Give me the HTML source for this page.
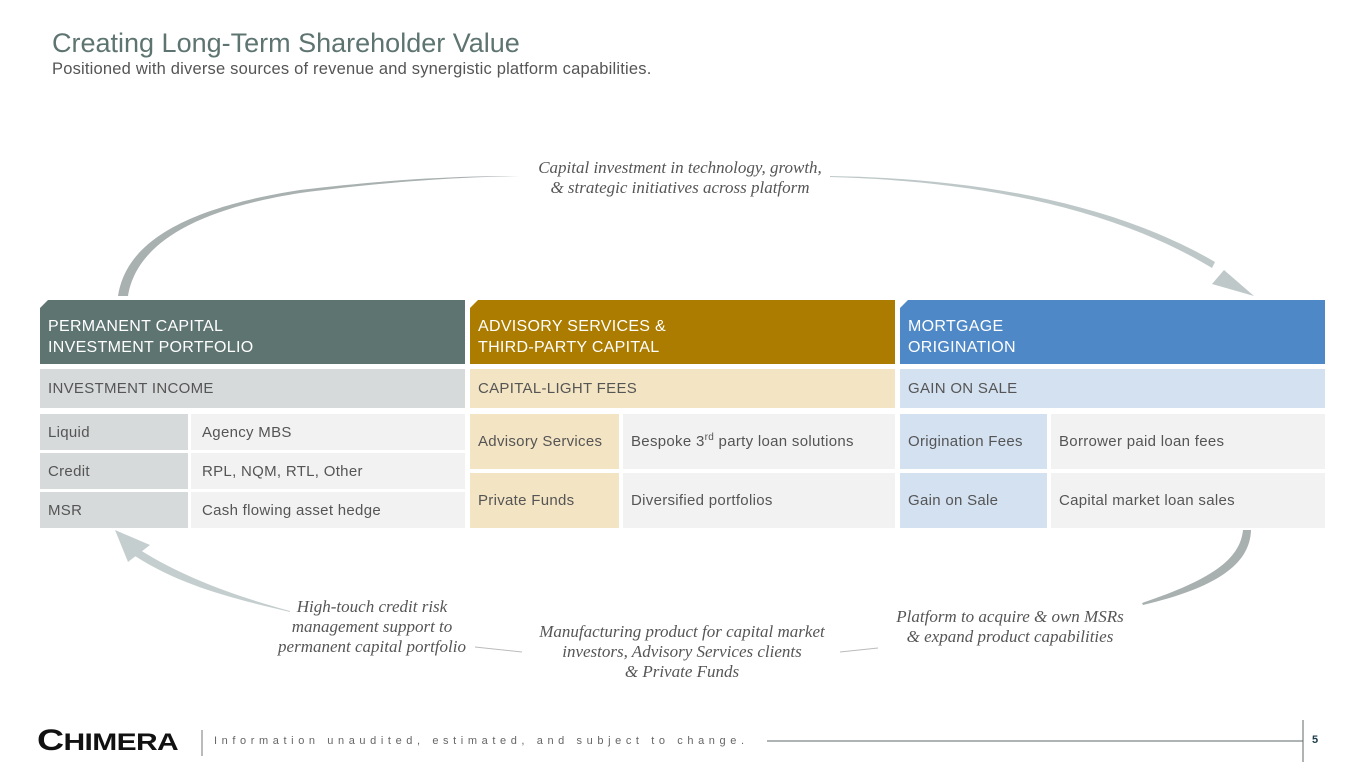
<!DOCTYPE html>
<html><head><meta charset="utf-8"><style>
body{margin:0;width:1365px;height:768px;background:#fff;position:relative;overflow:hidden;font-family:"Liberation Sans",sans-serif}
.a{position:absolute;box-sizing:border-box}
.h{color:#fff;font-size:16px;letter-spacing:0.3px;line-height:21px;padding:16px 0 0 8px;clip-path:polygon(8px 0,100% 0,100% 100%,0 100%,0 8px)}
.s{font-size:15px;letter-spacing:0.3px;color:#555;padding-left:8px;line-height:39px}
.c{font-size:15px;letter-spacing:0.3px;color:#555;padding-left:8px;display:flex;align-items:center}
.i{font-family:"Liberation Serif",serif;font-style:italic;color:#555;font-size:17px;line-height:20px;text-align:center}
</style></head><body>
<div class="a" style="left:52px;top:28px;font-size:27px;color:#5e7471">Creating Long-Term Shareholder Value</div>
<div class="a" style="left:52px;top:60px;font-size:16.5px;color:#555;letter-spacing:0.2px">Positioned with diverse sources of revenue and synergistic platform capabilities.</div>

<svg class="a" style="left:0;top:0" width="1365" height="768">
<path d="M118 296 C125 250 170 210 300 190 C400 178 470 176 520 176 C470 177 400 180 300 193 C180 212 135 252 128 296Z" fill="#a9b0b0"/>
<path d="M830 176 C950 178 1100 195 1215 262 L1212 268 C1100 200 950 180 830 177Z" fill="#bfc8c8"/>
<polygon points="1224,270 1254,296 1212,284" fill="#bfc8c8"/>
<path d="M290 612 C230 598 180 585 135 556 L140 550 C185 578 235 596 290 611Z" fill="#c5cece"/>
<polygon points="115,530 150,545 128,562" fill="#c5cece"/>
<path d="M1142 603 C1210 580 1240 560 1243 530 L1251 530 C1250 565 1215 588 1143 605Z" fill="#a9b0b0"/>
<line x1="475" y1="647" x2="522" y2="652" stroke="#bbb" stroke-width="1"/>
<line x1="840" y1="652" x2="878" y2="648" stroke="#bbb" stroke-width="1"/>
<line x1="767" y1="741" x2="1303" y2="741" stroke="#5e6a6a" stroke-width="1"/>
<line x1="1303" y1="720" x2="1303" y2="762" stroke="#5e6a6a" stroke-width="1"/>
<line x1="202" y1="730" x2="202" y2="756" stroke="#777" stroke-width="1"/>
</svg>

<div class="a i" style="left:480px;top:158px;width:400px">Capital investment in technology, growth,<br>&amp; strategic initiatives across platform</div>
<div class="a i" style="left:252px;top:597px;width:240px">High-touch credit risk<br>management support to<br>permanent capital portfolio</div>
<div class="a i" style="left:502px;top:622px;width:360px">Manufacturing product for capital market<br>investors, Advisory Services clients<br>&amp; Private Funds</div>
<div class="a i" style="left:860px;top:607px;width:300px">Platform to acquire &amp; own MSRs<br>&amp; expand product capabilities</div>

<div class="a h" style="left:40px;top:300px;width:425px;height:64px;background:#5e7471">PERMANENT CAPITAL<br>INVESTMENT PORTFOLIO</div>
<div class="a h" style="left:470px;top:300px;width:425px;height:64px;background:#ab7c00">ADVISORY SERVICES &amp;<br>THIRD-PARTY CAPITAL</div>
<div class="a h" style="left:900px;top:300px;width:425px;height:64px;background:#4f88c6">MORTGAGE<br>ORIGINATION</div>

<div class="a s" style="left:40px;top:369px;width:425px;height:39px;background:#d6dada">INVESTMENT INCOME</div>
<div class="a s" style="left:470px;top:369px;width:425px;height:39px;background:#f3e4c3">CAPITAL-LIGHT FEES</div>
<div class="a s" style="left:900px;top:369px;width:425px;height:39px;background:#d3e1f1">GAIN ON SALE</div>

<div class="a c" style="left:40px;top:414px;width:148px;height:36px;background:#d6dada">Liquid</div>
<div class="a c" style="left:191px;top:414px;width:274px;height:36px;background:#f2f2f2;padding-left:11px">Agency MBS</div>
<div class="a c" style="left:40px;top:453px;width:148px;height:36px;background:#d6dada">Credit</div>
<div class="a c" style="left:191px;top:453px;width:274px;height:36px;background:#f2f2f2;padding-left:11px">RPL, NQM, RTL, Other</div>
<div class="a c" style="left:40px;top:492px;width:148px;height:36px;background:#d6dada">MSR</div>
<div class="a c" style="left:191px;top:492px;width:274px;height:36px;background:#f2f2f2;padding-left:11px">Cash flowing asset hedge</div>

<div class="a c" style="left:470px;top:414px;width:149px;height:55px;background:#f3e4c3">Advisory Services</div>
<div class="a c" style="left:623px;top:414px;width:272px;height:55px;background:#f2f2f2">Bespoke 3<sup style="font-size:10px;margin-top:-8px">rd</sup>&nbsp;party loan solutions</div>
<div class="a c" style="left:470px;top:473px;width:149px;height:55px;background:#f3e4c3">Private Funds</div>
<div class="a c" style="left:623px;top:473px;width:272px;height:55px;background:#f2f2f2">Diversified portfolios</div>

<div class="a c" style="left:900px;top:414px;width:147px;height:55px;background:#d3e1f1">Origination Fees</div>
<div class="a c" style="left:1051px;top:414px;width:274px;height:55px;background:#f2f2f2">Borrower paid loan fees</div>
<div class="a c" style="left:900px;top:473px;width:147px;height:55px;background:#d3e1f1">Gain on Sale</div>
<div class="a c" style="left:1051px;top:473px;width:274px;height:55px;background:#f2f2f2">Capital market loan sales</div>

<div class="a" style="left:37px;top:726px;font-size:30px;font-weight:bold;color:#111;letter-spacing:-0.5px;line-height:30px;transform:scaleX(1.25);transform-origin:0 0">C<span style="font-size:24px">HIMERA</span></div>
<div class="a" style="left:214px;top:735px;font-size:11px;color:#666;letter-spacing:4.6px">Information unaudited, estimated, and subject to change.</div>
<div class="a" style="left:1312px;top:734px;font-size:11px;font-weight:bold;color:#1c3a4a">5</div>
</body></html>
